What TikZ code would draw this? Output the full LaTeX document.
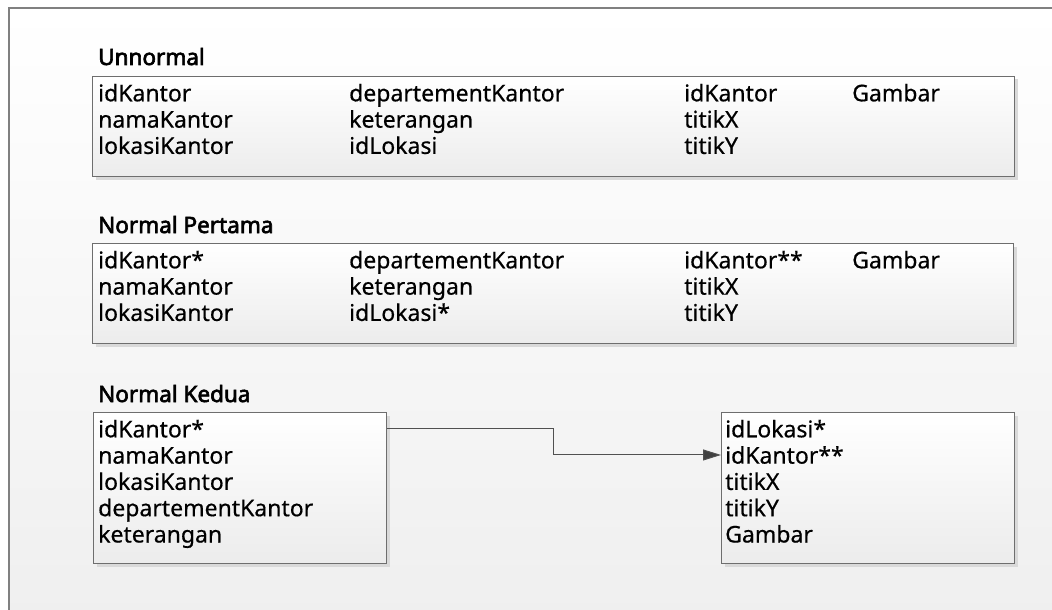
\documentclass[tikz,border=0pt]{standalone}
\usepackage{fontspec}
\setmainfont{Noto Sans}[FakeBold=0.5]
\newfontfamily\ttlfont{Noto Sans}[FakeBold=2.8]
\usetikzlibrary{arrows.meta,shadows}
\definecolor{frameline}{HTML}{808080}
\definecolor{bgbot}{HTML}{EFEFEF}
\definecolor{boxline}{HTML}{6E6E6E}
\definecolor{boxbot}{HTML}{ECECEC}
\definecolor{shadowgray}{HTML}{D9D9D9}
\definecolor{linkgray}{HTML}{505050}
\definecolor{headgray}{HTML}{404040}
\tikzset{
  tbl/.style={draw=boxline, line width=1pt, top color=white, bottom color=boxbot,
    anchor=north west, inner sep=0pt,
    drop shadow={shadow xshift=3pt, shadow yshift=-3pt, fill=shadowgray, opacity=1}},
  fld/.style={anchor=base west, inner sep=0pt, font=\fontsize{23}{26}\selectfont},
  ttl/.style={anchor=base west, inner sep=0pt, font=\ttlfont\fontsize{22.5}{26}\selectfont},
  link/.style={draw=linkgray, line width=1pt,
    -{Triangle[length=18pt,width=11pt,fill=headgray]}}
}
\begin{document}
\begin{tikzpicture}[x=1pt,y=-1pt]
\useasboundingbox (0,0) rectangle (1052,610);
\fill[white] (0,0) rectangle (1052,610);
% page background with its frame
\shade[top color=white, bottom color=bgbot] (9,8) rectangle (1062,622);
\draw[frameline, line width=1.2pt] (1062,8) -- (9,8) -- (9,622);

% ---- Unnormal ----
\node[ttl] (tu) at (98,65) {Unnormal};
\node[tbl, minimum width=922pt, minimum height=100pt] (bu) at (92,76) {};
\foreach \t [count=\i] in {idKantor,namaKantor,lokasiKantor}
  \node[fld] (u-a-\i) at (98,{75+26.3*\i}) {\t};
\foreach \t [count=\i] in {departementKantor,keterangan,idLokasi}
  \node[fld] (u-b-\i) at (349,{75+26.3*\i}) {\t};
\foreach \t [count=\i] in {idKantor,titikX,titikY}
  \node[fld] (u-c-\i) at (684,{75+26.3*\i}) {\t};
\node[fld] (u-d-1) at (852,101.3) {Gambar};

% ---- Normal Pertama ----
\node[ttl] (tp) at (98,233) {Normal Pertama};
\node[tbl, minimum width=921pt, minimum height=100pt] (bp) at (92,243) {};
\foreach \t [count=\i] in {idKantor*,namaKantor,lokasiKantor}
  \node[fld] (p-a-\i) at (98,{242+26.3*\i}) {\t};
\foreach \t [count=\i] in {departementKantor,keterangan,idLokasi*}
  \node[fld] (p-b-\i) at (349,{242+26.3*\i}) {\t};
\foreach \t [count=\i] in {idKantor**,titikX,titikY}
  \node[fld] (p-c-\i) at (684,{242+26.3*\i}) {\t};
\node[fld] (p-d-1) at (852,268.3) {Gambar};

% ---- Normal Kedua ----
\node[ttl] (tk) at (98,402) {Normal Kedua};
\node[tbl, minimum width=293pt, minimum height=151pt] (bk) at (93,412) {};
\foreach \t [count=\i] in {idKantor*,namaKantor,lokasiKantor,departementKantor,keterangan}
  \node[fld] (k-a-\i) at (98,{411+26.3*\i}) {\t};
\node[tbl, minimum width=293pt, minimum height=151pt] (bl) at (721,412) {};
\foreach \t [count=\i] in {idLokasi*,idKantor**,titikX,titikY,Gambar}
  \node[fld] (l-a-\i) at (725,{411+26.3*\i}) {\t};

% key link idKantor* -> idKantor**
\draw[link] (bk.east |- k-a-1.center) -- (553,0 |- k-a-1.center)
  |- (bl.west |- l-a-2.center);
\end{tikzpicture}
\end{document}
